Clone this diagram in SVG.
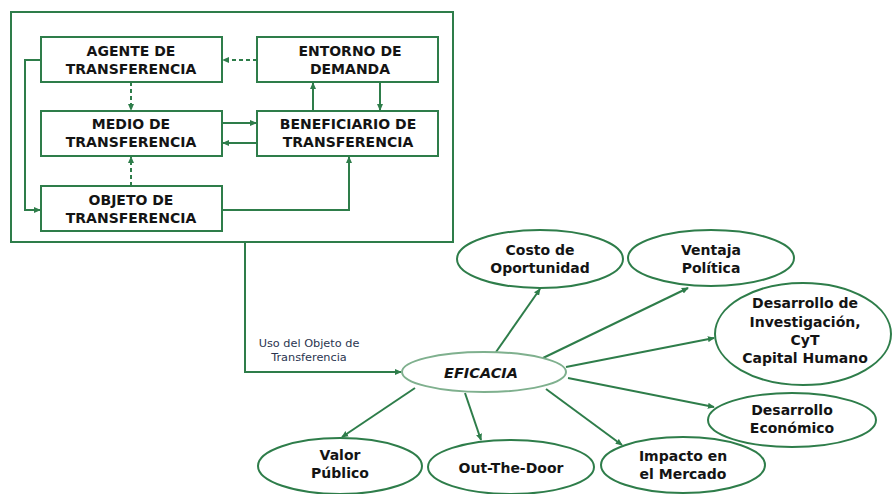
<svg xmlns="http://www.w3.org/2000/svg" width="892" height="494" viewBox="0 0 892 494">
<defs>
<marker id="ah" viewBox="0 0 8 8" refX="7" refY="4" markerWidth="7" markerHeight="7" markerUnits="userSpaceOnUse" orient="auto">
<path d="M0,0.5 L8,4 L0,7.5 z" fill="#2e7d4a"/>
</marker>
<style>
.box{fill:#fff;stroke:#2e7d4a;stroke-width:2}
.ell{fill:#fff;stroke:#2e7d4a;stroke-width:2}
.eff{fill:#fff;stroke:#7fb08e;stroke-width:2}
.ln{fill:none;stroke:#2e7d4a;stroke-width:2}
.ds{fill:none;stroke:#2e7d4a;stroke-width:2;stroke-dasharray:4 3}
.bt{font-family:"DejaVu Sans",sans-serif;font-weight:bold;font-size:14px;fill:#141414;text-anchor:middle}
.et{font-family:"DejaVu Sans",sans-serif;font-weight:bold;font-size:14px;fill:#141414;text-anchor:middle}
.lt{font-family:"DejaVu Sans",sans-serif;font-size:11.3px;fill:#2a3550;text-anchor:middle}
</style>
</defs>
<rect width="892" height="494" fill="#fff"/>
<rect id="frame" x="11" y="12" width="442" height="230" fill="none" stroke="#2e7d4a" stroke-width="2"/>

<g id="connectors">
<line class="ds" x1="257" y1="60" x2="223" y2="60" marker-end="url(#ah)"/>
<line class="ds" x1="131" y1="82" x2="131" y2="110" marker-end="url(#ah)"/>
<line class="ds" x1="131" y1="186" x2="131" y2="157" marker-end="url(#ah)"/>
<line class="ln" x1="222" y1="123" x2="256" y2="123" marker-end="url(#ah)"/>
<line class="ln" x1="257" y1="143" x2="223" y2="143" marker-end="url(#ah)"/>
<line class="ln" x1="313" y1="111" x2="313" y2="83" marker-end="url(#ah)"/>
<line class="ln" x1="380" y1="82" x2="380" y2="110" marker-end="url(#ah)"/>
<polyline class="ln" points="222,210 349,210 349,157" marker-end="url(#ah)"/>
<polyline class="ln" points="41,60 25,60 25,210 40,210" marker-end="url(#ah)"/>
<polyline class="ln" points="245,242 245,372 401,372" marker-end="url(#ah)"/>
<line class="ln" x1="496" y1="352" x2="540" y2="289" marker-end="url(#ah)"/>
<line class="ln" x1="543" y1="358" x2="688" y2="288" marker-end="url(#ah)"/>
<line class="ln" x1="566" y1="367" x2="714" y2="338" marker-end="url(#ah)"/>
<line class="ln" x1="568" y1="378" x2="714" y2="407" marker-end="url(#ah)"/>
<line class="ln" x1="546" y1="389" x2="622" y2="445" marker-end="url(#ah)"/>
<line class="ln" x1="465" y1="393" x2="481" y2="440" marker-end="url(#ah)"/>
<line class="ln" x1="415" y1="388" x2="342" y2="437" marker-end="url(#ah)"/>
<text class="lt" x="309" y="347">Uso del Objeto de</text>
<text class="lt" x="309" y="361">Transferencia</text>
</g>

<g id="agente"><rect class="box" x="41" y="37" width="181" height="45"/><text class="bt" x="131" y="56">AGENTE DE</text><text class="bt" x="131" y="74">TRANSFERENCIA</text></g>
<g id="entorno"><rect class="box" x="257" y="37" width="181" height="45"/><text class="bt" x="350" y="56">ENTORNO DE</text><text class="bt" x="350" y="74">DEMANDA</text></g>
<g id="medio"><rect class="box" x="41" y="111" width="181" height="45"/><text class="bt" x="131" y="129">MEDIO DE</text><text class="bt" x="131" y="147">TRANSFERENCIA</text></g>
<g id="beneficiario"><rect class="box" x="257" y="111" width="181" height="45"/><text class="bt" x="348" y="129">BENEFICIARIO DE</text><text class="bt" x="348" y="147">TRANSFERENCIA</text></g>
<g id="objeto"><rect class="box" x="41" y="186" width="181" height="45"/><text class="bt" x="131" y="205">OBJETO DE</text><text class="bt" x="131" y="223">TRANSFERENCIA</text></g>

<g id="eficacia"><ellipse class="eff" cx="484" cy="372" rx="82" ry="20"/><text x="481" y="378" text-anchor="middle" font-family="DejaVu Sans, sans-serif" font-weight="bold" font-style="italic" font-size="14.5" fill="#141414">EFICACIA</text></g>
<g id="costo"><ellipse class="ell" cx="540" cy="259" rx="83" ry="29"/><text class="et" x="540" y="255">Costo de</text><text class="et" x="540" y="273">Oportunidad</text></g>
<g id="ventaja"><ellipse class="ell" cx="711" cy="258" rx="83" ry="28"/><text class="et" x="711" y="255">Ventaja</text><text class="et" x="711" y="273">Política</text></g>
<g id="desarrollo-inv"><ellipse class="ell" cx="803" cy="334" rx="88" ry="51"/><text class="et" x="805" y="308">Desarrollo de</text><text class="et" x="805" y="327">Investigación,</text><text class="et" x="805" y="345">CyT</text><text class="et" x="805" y="363">Capital Humano</text></g>
<g id="desarrollo-eco"><ellipse class="ell" cx="792" cy="420" rx="84" ry="27"/><text class="et" x="792" y="415">Desarrollo</text><text class="et" x="792" y="433">Económico</text></g>
<g id="impacto"><ellipse class="ell" cx="683" cy="465" rx="82" ry="28"/><text class="et" x="683" y="461">Impacto en</text><text class="et" x="683" y="479">el Mercado</text></g>
<g id="valor"><ellipse class="ell" cx="340" cy="466" rx="82" ry="28"/><text class="et" x="340" y="460">Valor</text><text class="et" x="340" y="478">Público</text></g>
<g id="outthedoor"><ellipse class="ell" cx="511" cy="467" rx="83" ry="27"/><text class="et" x="511" y="473">Out-The-Door</text></g>
</svg>
